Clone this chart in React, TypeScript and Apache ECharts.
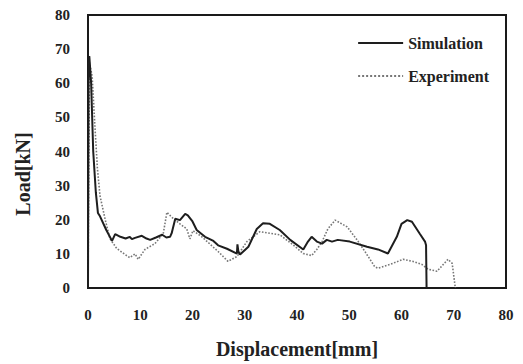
import React, { useEffect, useRef } from "react";
import * as echarts from "echarts";

const simX = [0, 0.1, 0.25, 0.6, 1.0, 1.5, 1.9, 2.3, 3.5, 4.6, 5.2, 6.2, 7.2, 8.0, 8.4, 9.0, 10.3, 11.2, 11.9, 13.0, 14.2, 15.0, 15.7, 16.0, 16.7, 17.6, 18.6, 19.1, 20.0, 20.8, 22.4, 24.0, 24.9, 26.6, 28.5, 28.6, 28.8, 29.1, 30.7, 32.3, 33.5, 34.8, 36.7, 38.7, 41.2, 42.1, 42.8, 43.8, 44.8, 45.7, 46.7, 47.8, 50.1, 53.4, 55.5, 57.4, 59.1, 60.0, 61.1, 62.0, 63.5, 64.5, 64.7, 64.8];
const simY = [0, 60, 68, 60, 40, 28, 22, 21, 17, 13.8, 15.8, 15, 14.5, 15, 14.3, 14.7, 15.3, 14.5, 14.1, 14.8, 15.6, 14.8, 15, 16, 20.3, 19.9, 21.7, 21.3, 19.5, 17, 15, 13.8, 12.5, 11.5, 10.1, 12.8, 10.5, 9.8, 12.1, 17.3, 19, 18.8, 17, 14.1, 11.3, 13.6, 15, 13.6, 13, 14.1, 13.6, 14.1, 13.6, 12.1, 11.3, 10.1, 15, 18.8, 19.9, 19.4, 15.9, 13.6, 12.5, 0];

const expX = [0, 0.3, 0.8, 1.3, 1.8, 2.3, 3.3, 4.2, 5.5, 7.1, 8.0, 9.0, 9.6, 10.9, 12.8, 14.4, 15.1, 16.0, 17.6, 18.9, 19.5, 20.1, 21.8, 24.9, 26.8, 28.5, 30.4, 32.9, 36.7, 39.2, 41.2, 42.8, 43.8, 44.8, 45.9, 47.3, 49.6, 51.5, 53.0, 54.9, 55.5, 57.8, 60.3, 62.2, 63.9, 65.1, 66.8, 68.9, 69.7, 70.2, 70.3];
const expY = [0, 66, 62, 48, 35, 27, 20, 14.4, 11.6, 9.8, 8.9, 10, 8.4, 11.3, 13, 15.9, 22.2, 20.8, 18.8, 17.3, 14.4, 16.8, 15, 10.7, 7.8, 9.2, 13.6, 16.5, 15.6, 12.7, 10.1, 9.5, 11.3, 13.6, 17.3, 19.9, 17.9, 14.1, 10.7, 6.2, 5.8, 6.9, 8.4, 7.8, 6.9, 5.5, 4.9, 8.4, 7.2, 1.2, 0];

const xTicks = [0, 10, 20, 30, 40, 50, 60, 70, 80];
const yTicks = [0, 10, 20, 30, 40, 50, 60, 70, 80];

const FONT = "'Liberation Serif', 'DejaVu Serif', serif";

export default function App() {
  const ref = useRef<HTMLDivElement>(null);
  useEffect(() => {
    if (!ref.current) return;
    const chart = echarts.init(ref.current, undefined, { renderer: "svg" });
    chart.setOption({
      animation: false,
      backgroundColor: "#ffffff",
      grid: {
        left: 88,
        right: 17,
        top: 15,
        bottom: 72,
        show: true,
        borderColor: "#1a1a1a",
        borderWidth: 2,
        backgroundColor: "transparent",
      },
      legend: {
        orient: "vertical",
        right: 29,
        top: 30,
        itemWidth: 45,
        itemHeight: 14,
        itemGap: 17,
        itemStyle: { opacity: 0, borderWidth: 0 },
        textStyle: { fontFamily: FONT, fontSize: 16, fontWeight: "bold", color: "#222" },
        data: ["Simulation", "Experiment"],
      },
      xAxis: {
        type: "value",
        min: xTicks[0],
        max: xTicks[xTicks.length - 1],
        interval: 10,
        name: "Displacement[mm]",
        nameLocation: "middle",
        nameGap: 51,
        nameTextStyle: { fontFamily: FONT, fontSize: 20, fontWeight: "bold", color: "#222" },
        axisLine: { show: false },
        axisTick: { show: false },
        splitLine: { show: false },
        axisLabel: { margin: 19, fontFamily: FONT, fontSize: 15, fontWeight: "bold", color: "#222" },
      },
      yAxis: {
        type: "value",
        min: yTicks[0],
        max: yTicks[yTicks.length - 1],
        interval: 10,
        axisLine: { show: false },
        axisTick: { show: false },
        splitLine: { show: false },
        axisLabel: { margin: 18, fontFamily: FONT, fontSize: 15, fontWeight: "bold", color: "#222" },
      },
      graphic: [
        {
          type: "text",
          x: 23,
          y: 174,
          rotation: Math.PI / 2,
          style: {
            text: "Load[kN]",
            fontFamily: FONT,
            fontSize: 20,
            fontWeight: "bold",
            fill: "#222",
            align: "center",
            verticalAlign: "middle",
          },
        },
      ],
      series: [
        {
          name: "Simulation",
          type: "line",
          symbol: "none",
          data: simX.map((x, i) => [x, simY[i]]),
          lineStyle: { color: "#1e1e1e", width: 2 },
          itemStyle: { color: "#1e1e1e" },
          z: 3,
        },
        {
          name: "Experiment",
          type: "line",
          symbol: "none",
          data: expX.map((x, i) => [x, expY[i]]),
          lineStyle: { color: "#777", width: 1.6, type: "dotted" },
          itemStyle: { color: "#777" },
          z: 2,
        },
      ],
    });
    return () => chart.dispose();
  }, []);
  return <div ref={ref} style={{ width: 523, height: 364, position: "absolute", left: 0, top: 0 }} />;
}
